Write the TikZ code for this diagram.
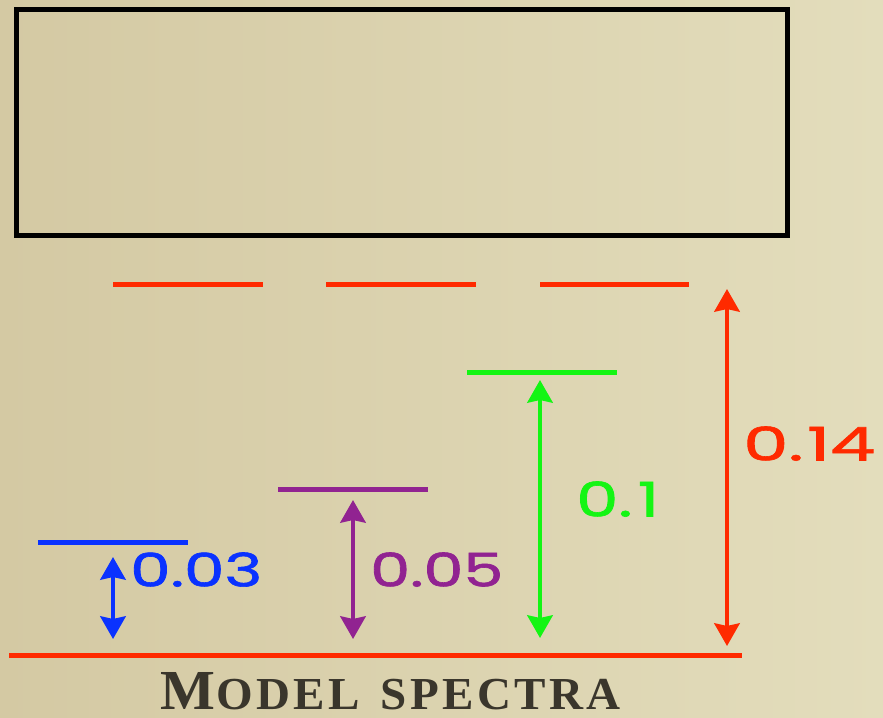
\documentclass[tikz,border=0pt]{standalone}
\usepackage{fontspec}
\setmainfont{Poppins}
\newfontfamily\numfont{Poppins}[FakeBold=1.3]
\newfontfamily\titlefont{Liberation Serif}
\usetikzlibrary{arrows.meta}
\definecolor{bgL}{RGB}{212,201,163}
\definecolor{bgR}{RGB}{227,221,188}
\definecolor{cred}{RGB}{255,42,0}
\definecolor{cgreen}{RGB}{20,245,20}
\definecolor{cblue}{RGB}{10,50,255}
\definecolor{cpurple}{RGB}{145,35,145}
\definecolor{ctitle}{RGB}{58,54,44}
\tikzset{
  level/.style={line width=3.75pt},
  gap/.style={line width=3pt, {Stealth[length=17pt,width=19pt,inset=2pt]}-{Stealth[length=17pt,width=19pt,inset=2pt]}},
  val/.style={anchor=south west, inner sep=0pt, font=\numfont}
}
\begin{document}
\begin{tikzpicture}[x=0.75pt,y=-0.75pt]
\shade[left color=bgL, right color=bgR] (0,0) rectangle (883,718);
\useasboundingbox (0,0) rectangle (883,718);
% black box
\node[draw=black, line width=3.75pt, minimum width=770.5*0.75pt, minimum height=226*0.75pt, inner sep=0pt, outer sep=0pt, anchor=north west] (box) at (16.5,9.5) {};
% red dashes (0.14 level)
\coordinate (r1a) at (113,284); \coordinate (r1b) at (263,284);
\coordinate (r2a) at (326,284); \coordinate (r2b) at (476,284);
\coordinate (r3a) at (540,284); \coordinate (r3b) at (689,284);
\draw[level, cred] (r1a) -- (r1b);
\draw[level, cred] (r2a) -- (r2b);
\draw[level, cred] (r3a) -- (r3b);
% levels
\coordinate (ga) at (467,372.5); \coordinate (gb) at (617,372.5);
\draw[level, cgreen] (ga) -- (gb);
\coordinate (pa) at (278,489.5); \coordinate (pb) at (428,489.5);
\draw[level, cpurple] (pa) -- (pb);
\coordinate (ba) at (38,542.5); \coordinate (bb) at (188,542.5);
\draw[level, cblue] (ba) -- (bb);
\coordinate (za) at (9,655); \coordinate (zb) at (742,655);
\draw[level, cred] (za) -- (zb);
% arrows
\coordinate (bt) at (113,557); \coordinate (bbot) at (113,639);
\draw[gap, cblue] (bt) -- (bbot);
\coordinate (pt) at (353,500); \coordinate (pbot) at (353,639);
\draw[gap, cpurple] (pt) -- (pbot);
\coordinate (gt) at (540,380); \coordinate (gbot) at (540,638);
\draw[gap, cgreen] (gt) -- (gbot);
\coordinate (rt) at (727,289); \coordinate (rbot) at (727,646);
\draw[gap, cred] (rt) -- (rbot);
% values
\node[val, text=cblue] (v003) at (130,587) {\resizebox{99pt}{25.5pt}{0.03}};
\node[val, text=cpurple] (v005) at (370,587) {\resizebox{99.75pt}{25.5pt}{0.05}};
\node[val, text=cgreen] (v01) at (576,517) {\resizebox{62.25pt}{26.25pt}{0.\kern0.08em1}};
\node[val, text=cred] (v014) at (743,461) {\resizebox{99pt}{25.5pt}{0.\kern0.05em14}};
% title
\node[anchor=south west, inner sep=0pt, text=ctitle] (title) at (160,710)
  {\resizebox{345pt}{27.75pt}{\titlefont\bfseries M\kern0.02em{\fontsize{8.1}{9}\selectfont O\kern0.07em D\kern0.07em E\kern0.07em L\hskip0.45em S\kern0.07em P\kern0.07em E\kern0.07em C\kern0.07em T\kern0.07em R\kern0.07em A}}};
\end{tikzpicture}
\end{document}
